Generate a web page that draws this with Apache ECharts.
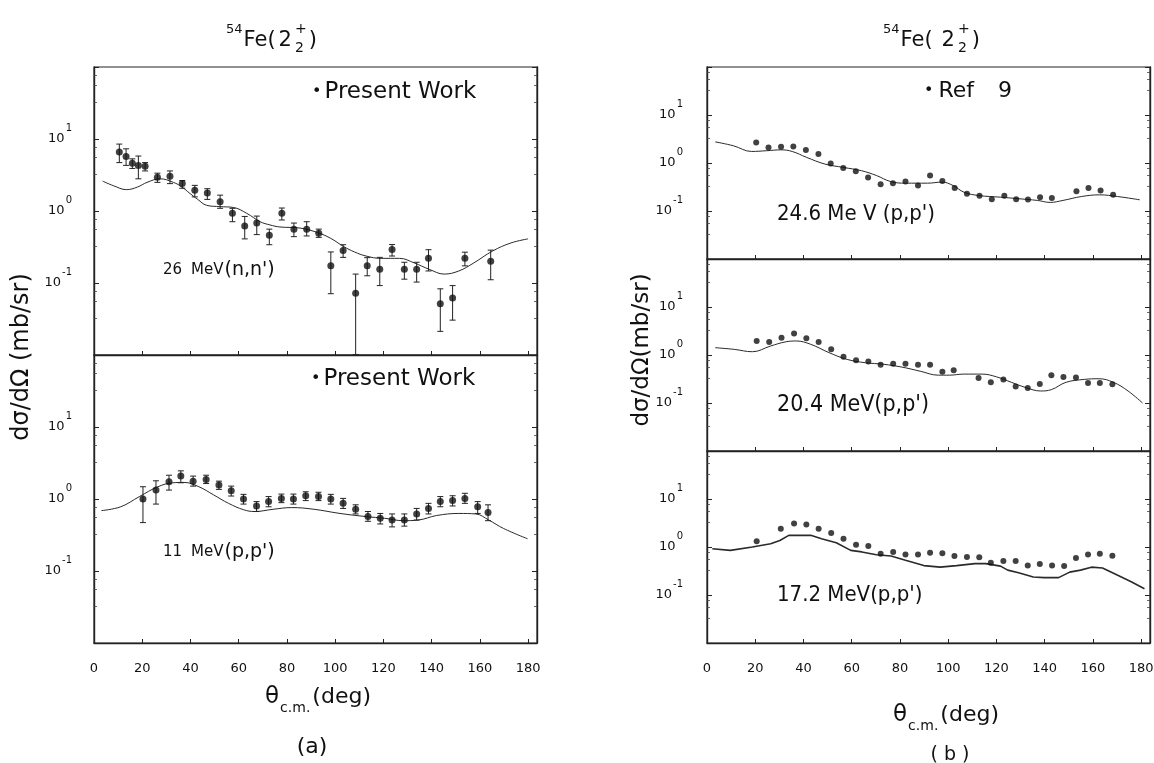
<!DOCTYPE html>
<html>
<head>
<meta charset="utf-8">
<script src="https://cdn.jsdelivr.net/npm/echarts@6/dist/echarts.min.js"></script>
<style>
  html, body { margin: 0; padding: 0; background: #fff; }
  #chart { width: 1154px; height: 763px; }
</style>
</head>
<body>
<div id="chart"></div>
<script>
// 54Fe(2+2) differential cross sections vs. c.m. angle.
// (a) present work: 26 MeV (n,n') and 11 MeV (p,p'); (b) Ref. 9: 24.6, 20.4, 17.2 MeV (p,p').

// ---- 26 MeV (n,n') ----
const n26Angle = [10.5, 13.3, 15.9, 18.4, 21.2, 26.3, 31.5, 36.6, 41.8, 47.0, 52.3, 57.4, 62.5, 67.5, 72.7, 77.9,
  82.9, 88.2, 93.2, 98.2, 103.3, 108.5, 113.3, 118.5, 123.6, 128.7, 133.8, 138.7, 143.6, 148.7, 153.8, 164.5];
const n26Sigma = [6.6, 5.7, 4.6, 4.3, 4.2, 2.95, 3.05, 2.4, 1.94, 1.78, 1.34, 0.93, 0.62, 0.68, 0.46, 0.93,
  0.56, 0.56, 0.49, 0.173, 0.283, 0.072, 0.173, 0.155, 0.292, 0.155, 0.155, 0.22, 0.0516, 0.0617, 0.22, 0.2];
const n26High = [8.5, 7.3, 5.3, 5.8, 4.7, 3.35, 3.6, 2.65, 2.27, 2.04, 1.66, 1.09, 0.84, 0.85, 0.56, 1.1,
  0.68, 0.71, 0.56, 0.27, 0.34, 0.133, 0.225, 0.227, 0.342, 0.194, 0.194, 0.29, 0.083, 0.092, 0.268, 0.286];
const n26Low = [4.7, 4.3, 3.9, 2.8, 3.6, 2.5, 2.4, 2.07, 1.57, 1.45, 1.09, 0.71, 0.41, 0.47, 0.34, 0.75,
  0.44, 0.45, 0.43, 0.071, 0.227, 0.0101, 0.126, 0.092, 0.237, 0.113, 0.103, 0.147, 0.0213, 0.0305, 0.173, 0.111];
const n26CalcAngle = [3.6, 8, 13.5, 18, 22, 27.4, 32.9, 36.5, 39.8, 43, 46.7, 52.3, 57.8, 63.3, 68.9, 73, 77.1,
  85.4, 92.8, 98, 103.6, 108, 112.8, 119, 126.7, 132.8, 139, 145.2, 151.3, 157.5, 165.2, 172.9, 180];
const n26Calc = [2.6, 2.25, 1.98, 2.15, 2.5, 2.8, 2.5, 2.15, 1.75, 1.45, 1.2, 1.15, 1.12, 0.93, 0.71, 0.64, 0.6,
  0.58, 0.5, 0.42, 0.32, 0.27, 0.237, 0.22, 0.22, 0.19, 0.155, 0.133, 0.147, 0.19, 0.277, 0.36, 0.41];

// ---- 11 MeV (p,p') ----
const p11Angle = [20.3, 25.7, 31.1, 36.0, 41.1, 46.5, 51.8, 56.9, 62.0, 67.4, 72.4, 77.7, 82.7, 87.8, 93.1,
  98.2, 103.3, 108.5, 113.6, 118.7, 123.6, 128.7, 133.8, 138.7, 143.6, 148.7, 153.8, 159.1, 163.4];
const p11Sigma = [1.0, 1.33, 1.73, 2.08, 1.77, 1.87, 1.56, 1.3, 1.0, 0.8, 0.92, 1.02, 1.0, 1.11, 1.08,
  1.0, 0.87, 0.72, 0.57, 0.54, 0.51, 0.51, 0.62, 0.74, 0.92, 0.95, 1.02, 0.78, 0.65];
const p11High = [1.48, 1.79, 2.14, 2.46, 2.08, 2.14, 1.77, 1.51, 1.16, 0.92, 1.08, 1.17, 1.17, 1.26, 1.24,
  1.16, 1.02, 0.83, 0.67, 0.63, 0.62, 0.62, 0.74, 0.87, 1.08, 1.11, 1.2, 0.92, 0.83];
const p11Low = [0.47, 0.85, 1.33, 1.68, 1.51, 1.64, 1.36, 1.1, 0.85, 0.67, 0.78, 0.89, 0.85, 0.95, 0.95,
  0.85, 0.74, 0.62, 0.49, 0.45, 0.41, 0.42, 0.51, 0.62, 0.78, 0.8, 0.87, 0.63, 0.5];
const p11CalcAngle = [3.1, 11.1, 18.8, 26.5, 32.7, 37.3, 43.5, 49.6, 55.8, 62, 66.6, 74.3, 82, 91.2, 102,
  112.8, 120.5, 128.2, 134.4, 142.1, 151.3, 158.3, 163.7, 169.8, 179.8];
const p11Calc = [0.69, 0.78, 1.08, 1.48, 1.68, 1.7, 1.48, 1.14, 0.87, 0.71, 0.67, 0.72, 0.76, 0.72, 0.63,
  0.57, 0.54, 0.5, 0.51, 0.59, 0.63, 0.62, 0.51, 0.39, 0.28];

// ---- 24.6 MeV (p,p') ----
const p246Angle = [20.4, 25.5, 30.7, 35.8, 41.0, 46.2, 51.3, 56.5, 61.7, 66.8, 72.0, 77.1, 82.3, 87.5, 92.5,
  97.6, 102.7, 107.8, 113.0, 118.1, 123.3, 128.2, 133.1, 138.1, 143.0, 153.2, 158.2, 163.2, 168.4];
const p246Sigma = [2.67, 2.1, 2.17, 2.21, 1.86, 1.54, 0.98, 0.79, 0.67, 0.5, 0.36, 0.38, 0.41, 0.34, 0.55,
  0.42, 0.3, 0.228, 0.207, 0.176, 0.207, 0.176, 0.174, 0.194, 0.186, 0.258, 0.3, 0.267, 0.217];
const p246CalcAngle = [3.4, 11, 18.5, 24.6, 30.7, 35.3, 41.3, 48.9, 56.5, 64.1, 70.2, 76.2, 82.3, 91.4, 97.5,
  102, 106.6, 112.7, 121.8, 129.4, 137, 142.3, 147.6, 155.2, 162.8, 170.3, 179.5];
const p246Calc = [2.76, 2.28, 1.74, 1.8, 1.88, 1.74, 1.31, 0.95, 0.81, 0.69, 0.55, 0.41, 0.38, 0.38, 0.4,
  0.34, 0.246, 0.21, 0.194, 0.18, 0.166, 0.151, 0.166, 0.2, 0.217, 0.2, 0.171];

// ---- 20.4 MeV (p,p') ----
const p204Angle = [20.6, 25.8, 30.9, 36.1, 41.2, 46.3, 51.5, 56.6, 61.8, 66.9, 72.0, 77.2, 82.3, 87.5, 92.5,
  97.6, 102.3, 112.6, 117.7, 122.9, 128.0, 133.0, 138.0, 142.8, 147.8, 153.0, 158.0, 162.9, 168.1];
const p204Sigma = [1.96, 1.87, 2.3, 2.79, 2.23, 1.87, 1.31, 0.92, 0.78, 0.73, 0.63, 0.66, 0.66, 0.63, 0.63,
  0.45, 0.48, 0.33, 0.27, 0.31, 0.22, 0.205, 0.25, 0.38, 0.35, 0.34, 0.26, 0.26, 0.245];
const p204CalcAngle = [3.4, 11.3, 18.8, 26.4, 32.4, 37, 43, 50.6, 58.1, 65.7, 73.3, 80.8, 88.4, 95.9, 100.5,
  106.5, 114.1, 120.1, 126.2, 132.2, 138.3, 142.8, 148.9, 156.4, 162.5, 168.5, 174.6, 180.6];
const p204Calc = [1.42, 1.31, 1.17, 1.54, 1.87, 1.96, 1.67, 1.12, 0.81, 0.69, 0.64, 0.56, 0.46, 0.38, 0.38,
  0.4, 0.4, 0.35, 0.27, 0.21, 0.178, 0.19, 0.27, 0.31, 0.32, 0.27, 0.178, 0.1];

// ---- 17.2 MeV (p,p') ----
const p172Angle = [20.6, 30.6, 36.1, 41.2, 46.3, 51.5, 56.6, 61.8, 66.9, 72.0, 77.2, 82.3, 87.5, 92.5, 97.6,
  102.6, 107.8, 112.9, 117.7, 122.9, 128.0, 133.0, 138.0, 143.1, 148.1, 153.0, 158.0, 162.9, 168.1];
const p172Sigma = [1.31, 2.4, 3.1, 2.96, 2.4, 1.96, 1.49, 1.12, 1.05, 0.72, 0.79, 0.7, 0.7, 0.76, 0.74,
  0.65, 0.62, 0.61, 0.47, 0.51, 0.51, 0.41, 0.44, 0.41, 0.4, 0.59, 0.7, 0.72, 0.66];
const p172CalcAngle = [2.2, 9.7, 18.8, 26.4, 30.2, 33.9, 38.5, 43, 47.5, 53.6, 59.6, 64.2, 70.2, 76.3, 82.3,
  89.9, 96.7, 103.5, 111.1, 115.6, 121.7, 124.7, 129.2, 135.3, 139.8, 145.8, 150.4, 154.9, 159.4, 164, 170.1,
  176.1, 181.4];
const p172Calc = [0.92, 0.85, 1.0, 1.17, 1.37, 1.75, 1.75, 1.75, 1.49, 1.23, 0.85, 0.79, 0.69, 0.65, 0.53,
  0.41, 0.38, 0.41, 0.45, 0.45, 0.4, 0.33, 0.29, 0.237, 0.23, 0.23, 0.3, 0.33, 0.38, 0.365, 0.26, 0.187, 0.135];

// Axis ticks
const xTicks = [0, 20, 40, 60, 80, 100, 120, 140, 160, 180];
const yDecadeLabels = [-1, 0, 1];   // exponents labelled as 10^n

// ---------------------------------------------------------------
const INK = '#111';
const FONT = 'DejaVu Sans';
const FONT_C = '"DejaVu Sans Condensed", "DejaVu Sans"';
const X_MAX = 183.7;      // the frame runs a little past 180 deg

const pairs = (xs, ys) => xs.map((x, i) => [x, ys[i]]);
const bars = (xs, lo, hi) => xs.map((x, i) => [x, lo[i], hi[i]]);

// panel frames: [left, top, width, height]
const frames = [
  [94, 67, 443, 288],
  [94, 355, 443, 288],
  [707, 67, 443, 192],
  [707, 259, 443, 192],
  [707, 451, 443, 192]
];
const withXLabels = [false, true, false, false, true];

const grid = frames.map(f => ({
  left: f[0], top: f[1], width: f[2], height: f[3],
  containLabel: false, outerBoundsMode: 'none',
  show: true, borderColor: '#222', borderWidth: 1.2, backgroundColor: 'transparent'
}));

const xAxis = frames.map((f, i) => ({
  type: 'value', gridIndex: i, min: 0, max: X_MAX, interval: 20,
  axisLine: { show: true, lineStyle: { color: '#222', width: 1.4 } },
  axisTick: { show: true, inside: true, length: 4, lineStyle: { color: '#222', width: 1 } },
  splitLine: { show: false },
  axisLabel: {
    show: withXLabels[i], interval: 0, margin: 19, color: INK, fontFamily: FONT, fontSize: 13,
    showMaxLabel: true, showMinLabel: true,
    formatter: v => (xTicks.indexOf(Math.round(v * 1000) / 1000) >= 0 ? String(v) : '')
  }
}));

const yAxis = [];
frames.forEach((f, i) => {
  const common = {
    type: 'log', logBase: 10, gridIndex: i, min: 0.01, max: 100,
    axisLine: { show: true, lineStyle: { color: '#222', width: 1.4 } },
    axisTick: { show: true, inside: true, length: 5, lineStyle: { color: '#222', width: 1 } },
    minorTick: { show: true, splitNumber: 4, length: 3, lineStyle: { color: '#444', width: 0.8 } },
    splitLine: { show: false }, minorSplitLine: { show: false }
  };
  yAxis.push(Object.assign({}, common, {
    position: 'left',
    axisLabel: {
      show: true, margin: i < 2 ? 22 : 24, color: INK, fontFamily: FONT,
      formatter: v => {
        const e = Math.round(Math.log10(v));
        if (yDecadeLabels.indexOf(e) < 0) return '';
        return '{b|10}{e|' + e + '}';
      },
      rich: {
        b: { fontSize: 13, lineHeight: 32, fontFamily: FONT, color: INK },
        e: { fontSize: 10, lineHeight: 10, padding: [0, 0, 22, 1], fontFamily: FONT, color: INK }
      }
    }
  }));
  yAxis.push(Object.assign({}, common, { position: 'right', axisLabel: { show: false } }));
});

function calcLine(i, xs, ys, width, smooth) {
  return {
    type: 'line', xAxisIndex: i, yAxisIndex: 2 * i, data: pairs(xs, ys),
    showSymbol: false, smooth: smooth, silent: true, z: 2,
    lineStyle: { color: '#2a2a2a', width: width }
  };
}
function points(i, xs, ys, size) {
  return {
    type: 'scatter', xAxisIndex: i, yAxisIndex: 2 * i, data: pairs(xs, ys),
    symbol: 'circle', symbolSize: size, silent: true, z: 4,
    itemStyle: { color: INK }
  };
}
function errorBars(i, xs, lo, hi) {
  return {
    type: 'custom', xAxisIndex: i, yAxisIndex: 2 * i, data: bars(xs, lo, hi), silent: true, z: 3,
    encode: { x: 0, y: [1, 2] },
    renderItem: (params, api) => {
      const top = api.coord([api.value(0), api.value(2)]);
      const bot = api.coord([api.value(0), api.value(1)]);
      const w = 3;
      const st = { stroke: '#222', lineWidth: 1 };
      return {
        type: 'group',
        children: [
          { type: 'line', shape: { x1: top[0], y1: top[1], x2: bot[0], y2: bot[1] }, style: st },
          { type: 'line', shape: { x1: top[0] - w, y1: top[1], x2: top[0] + w, y2: top[1] }, style: st },
          { type: 'line', shape: { x1: bot[0] - w, y1: bot[1], x2: bot[0] + w, y2: bot[1] }, style: st }
        ]
      };
    }
  };
}

const series = [
  calcLine(0, n26CalcAngle, n26Calc, 1, 0.4),
  errorBars(0, n26Angle, n26Low, n26High),
  points(0, n26Angle, n26Sigma, 7),
  calcLine(1, p11CalcAngle, p11Calc, 1, 0.4),
  errorBars(1, p11Angle, p11Low, p11High),
  points(1, p11Angle, p11Sigma, 7),
  calcLine(2, p246CalcAngle, p246Calc, 1, 0.4),
  points(2, p246Angle, p246Sigma, 6),
  calcLine(3, p204CalcAngle, p204Calc, 1, 0.4),
  points(3, p204Angle, p204Sigma, 6),
  calcLine(4, p172CalcAngle, p172Calc, 1.6, false),
  points(4, p172Angle, p172Sigma, 6)
];

// ---- text pieces laid out with measured widths ----
const ctx2d = document.createElement('canvas').getContext('2d');
function textWidth(str, size, family) {
  ctx2d.font = size + 'px ' + family;
  return ctx2d.measureText(str).width;
}
function textRun(x0, yMid, pieces, family) {
  family = family || FONT;
  let x = x0;
  const out = [];
  pieces.forEach(p => {
    x += p.gap || 0;
    out.push({
      type: 'text', x: x, y: yMid + (p.dy || 0), silent: true, z: 10,
      style: {
        text: p.t, fontSize: p.size, fontFamily: family, fill: INK,
        textAlign: 'left', textVerticalAlign: 'middle', align: 'left', verticalAlign: 'middle'
      }
    });
    if (!p.hold) x += textWidth(p.t, p.size, family);
  });
  return out;
}
function runWidth(pieces, family) {
  family = family || FONT;
  return pieces.reduce((s, p) => s + (p.gap || 0) + (p.hold ? 0 : textWidth(p.t, p.size, family)), 0);
}
function centeredRun(cx, yMid, pieces, family) {
  return textRun(cx - runWidth(pieces, family) / 2, yMid, pieces, family);
}
function rotatedText(x, y, str, size) {
  return {
    type: 'text', x: x, y: y, rotation: Math.PI / 2, silent: true, z: 10,
    style: {
      text: str, fontSize: size, fontFamily: FONT, fill: INK,
      textAlign: 'center', textVerticalAlign: 'middle', align: 'center', verticalAlign: 'middle'
    }
  };
}

const titleA = [
  { t: '54', size: 13, dy: -11 }, { t: 'Fe(', size: 21, gap: 1 }, { t: '2', size: 21, gap: 3 },
  { t: '+', size: 14, dy: -12, gap: 3, hold: true }, { t: '2', size: 14, dy: 7 }, { t: ')', size: 21, gap: 5 }
];
const titleB = [
  { t: '54', size: 13, dy: -11 }, { t: 'Fe(', size: 21, gap: 1 }, { t: '2', size: 21, gap: 9 },
  { t: '+', size: 14, dy: -12, gap: 3, hold: true }, { t: '2', size: 14, dy: 7 }, { t: ')', size: 21, gap: 5 }
];
const thetaTitle = [
  { t: 'θ', size: 23 }, { t: 'c.m.', size: 14, dy: 11, gap: 1 }, { t: '(deg)', size: 22, gap: 2 }
];
const presentWork = [{ t: '•', size: 16 }, { t: 'Present Work', size: 23, gap: 3 }];
const refNine = [{ t: '•', size: 16 }, { t: 'Ref', size: 22, gap: 5 }, { t: '9', size: 22, gap: 24 }];
const label26 = [{ t: '26', size: 15 }, { t: 'MeV', size: 15, gap: 9 }, { t: "(n,n')", size: 19, gap: 1 }];
const label11 = [{ t: '11', size: 15 }, { t: 'MeV', size: 15, gap: 9 }, { t: "(p,p')", size: 19, gap: 1 }];
const label246 = [{ t: '24.6 Me V (p,p\')', size: 22 }];
const label204 = [{ t: '20.4 MeV(p,p\')', size: 23 }];
const label172 = [{ t: '17.2 MeV(p,p\')', size: 22 }];

const graphic = [].concat(
  textRun(226, 41, titleA),
  textRun(883, 41, titleB),
  textRun(312, 92, presentWork),
  textRun(311, 379, presentWork),
  textRun(924, 91, refNine),
  textRun(163, 270, label26),
  textRun(163, 552, label11),
  textRun(777, 214, label246, FONT_C),
  textRun(777, 405, label204, FONT_C),
  textRun(777, 595, label172, FONT_C),
  centeredRun(318, 697, thetaTitle),
  centeredRun(946, 715, thetaTitle),
  [rotatedText(22, 357, 'dσ/dΩ (mb/sr)', 24), rotatedText(642, 350, 'dσ/dΩ(mb/sr)', 23)],
  centeredRun(312, 747, [{ t: '(a)', size: 22 }]),
  centeredRun(950, 755, [{ t: '( b )', size: 19 }])
);

const chart = echarts.init(document.getElementById('chart'), null, { renderer: 'canvas' });
chart.setOption({
  animation: false,
  backgroundColor: '#fff',
  grid: grid,
  xAxis: xAxis,
  yAxis: yAxis,
  series: series,
  graphic: graphic
});
</script>
</body>
</html>
